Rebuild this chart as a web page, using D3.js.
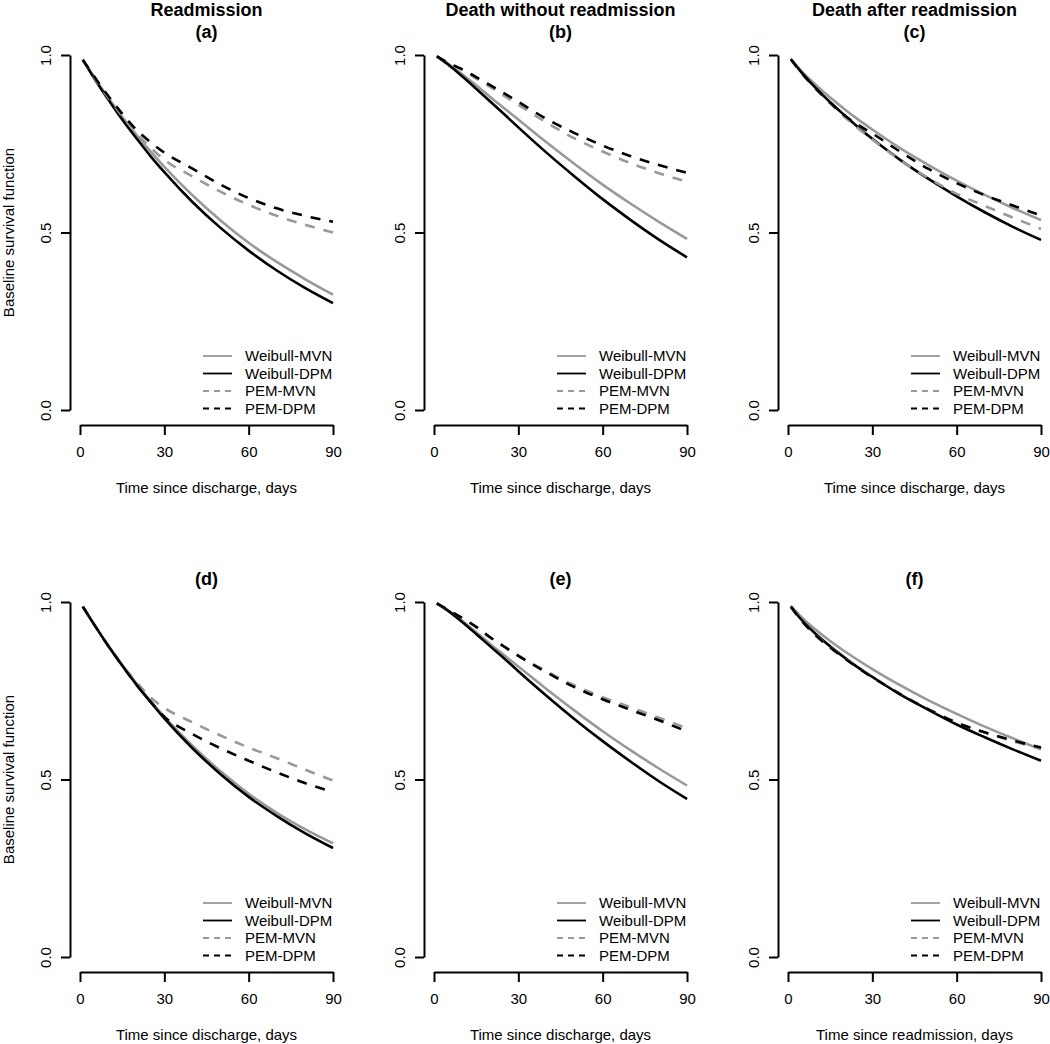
<!DOCTYPE html>
<html>
<head>
<meta charset="utf-8">
<script src="https://cdn.jsdelivr.net/npm/d3@7"></script>
<style>
  html, body { margin: 0; padding: 0; background: #fff; }
  svg { display: block; font-family: "Liberation Sans", Arial, Helvetica, sans-serif; }
</style>
</head>
<body>
<svg id="chart" width="1050" height="1044"></svg>
<script>
// ---------------- DATA ----------------
const times = [1, 5, 10, 15, 20, 25, 30, 40, 50, 60, 70, 80, 90];

const topTitles = ["Readmission", "Death without readmission", "Death after readmission"];
const panelLabels = ["(a)", "(b)", "(c)", "(d)", "(e)", "(f)"];
const xTitles = [
  "Time since discharge, days", "Time since discharge, days", "Time since discharge, days",
  "Time since discharge, days", "Time since discharge, days", "Time since readmission, days"
];
const yTitle = "Baseline survival function";
const xTicks = [0, 30, 60, 90];
const yTicks = [0, 0.5, 1];
const yTickLabels = ["0.0", "0.5", "1.0"];
const seriesNames = ["Weibull-MVN", "Weibull-DPM", "PEM-MVN", "PEM-DPM"];

// Panel (a) Readmission
const a_weibullMVN = [0.987, 0.938, 0.880, 0.826, 0.776, 0.729, 0.685, 0.605, 0.534, 0.471, 0.417, 0.369, 0.325];
const a_weibullDPM = [0.987, 0.935, 0.875, 0.818, 0.766, 0.716, 0.670, 0.586, 0.513, 0.449, 0.393, 0.344, 0.301];
const a_pemMVN     = [0.986, 0.937, 0.880, 0.828, 0.780, 0.740, 0.705, 0.658, 0.615, 0.578, 0.547, 0.522, 0.500];
const a_pemDPM     = [0.986, 0.940, 0.885, 0.835, 0.790, 0.755, 0.725, 0.680, 0.635, 0.597, 0.568, 0.547, 0.530];
// Panel (b) Death without readmission
const b_weibullMVN = [0.996, 0.976, 0.946, 0.915, 0.882, 0.850, 0.818, 0.754, 0.693, 0.635, 0.581, 0.530, 0.482];
const b_weibullDPM = [0.996, 0.973, 0.940, 0.905, 0.869, 0.833, 0.796, 0.725, 0.658, 0.594, 0.535, 0.480, 0.430];
const b_pemMVN     = [0.996, 0.978, 0.958, 0.934, 0.910, 0.885, 0.860, 0.810, 0.765, 0.728, 0.695, 0.667, 0.643];
const b_pemDPM     = [0.996, 0.978, 0.960, 0.938, 0.915, 0.892, 0.868, 0.820, 0.780, 0.745, 0.715, 0.690, 0.668];
// Panel (c) Death after readmission
const c_weibullMVN = [0.989, 0.953, 0.915, 0.880, 0.848, 0.818, 0.790, 0.737, 0.690, 0.646, 0.606, 0.569, 0.535];
const c_weibullDPM = [0.988, 0.949, 0.906, 0.867, 0.831, 0.796, 0.764, 0.704, 0.651, 0.602, 0.557, 0.516, 0.479];
const c_pemMVN     = [0.988, 0.947, 0.903, 0.864, 0.827, 0.793, 0.762, 0.703, 0.653, 0.609, 0.575, 0.542, 0.510];
const c_pemDPM     = [0.988, 0.948, 0.905, 0.866, 0.830, 0.803, 0.779, 0.727, 0.679, 0.639, 0.605, 0.576, 0.548];
// Panel (d)
const d_weibullMVN = [0.987, 0.937, 0.878, 0.823, 0.771, 0.722, 0.677, 0.595, 0.523, 0.460, 0.406, 0.360, 0.320];
const d_weibullDPM = [0.987, 0.937, 0.877, 0.821, 0.768, 0.719, 0.672, 0.588, 0.515, 0.451, 0.397, 0.349, 0.307];
const d_pemMVN     = [0.987, 0.937, 0.878, 0.823, 0.775, 0.732, 0.702, 0.661, 0.624, 0.590, 0.560, 0.528, 0.497];
const d_pemDPM     = [0.987, 0.937, 0.877, 0.821, 0.768, 0.720, 0.677, 0.628, 0.588, 0.553, 0.520, 0.490, 0.465];
// Panel (e)
const e_weibullMVN = [0.996, 0.977, 0.947, 0.915, 0.882, 0.850, 0.818, 0.755, 0.694, 0.636, 0.582, 0.531, 0.483];
const e_weibullDPM = [0.996, 0.975, 0.944, 0.910, 0.875, 0.841, 0.805, 0.736, 0.670, 0.608, 0.550, 0.495, 0.445];
const e_pemMVN     = [0.996, 0.978, 0.955, 0.930, 0.901, 0.875, 0.850, 0.805, 0.765, 0.732, 0.703, 0.674, 0.644];
const e_pemDPM     = [0.996, 0.978, 0.955, 0.930, 0.900, 0.874, 0.848, 0.802, 0.760, 0.726, 0.696, 0.667, 0.635];
// Panel (f)
const f_weibullMVN = [0.989, 0.956, 0.921, 0.890, 0.862, 0.836, 0.811, 0.765, 0.723, 0.685, 0.649, 0.616, 0.585];
const f_weibullDPM = [0.986, 0.948, 0.909, 0.875, 0.844, 0.815, 0.789, 0.739, 0.696, 0.655, 0.619, 0.585, 0.553];
const f_pemMVN     = [0.987, 0.946, 0.906, 0.873, 0.843, 0.815, 0.789, 0.741, 0.698, 0.661, 0.632, 0.608, 0.587];
const f_pemDPM     = [0.987, 0.946, 0.905, 0.872, 0.842, 0.814, 0.788, 0.740, 0.697, 0.660, 0.633, 0.610, 0.590];

const panelSeries = [
  [a_weibullMVN, a_weibullDPM, a_pemMVN, a_pemDPM],
  [b_weibullMVN, b_weibullDPM, b_pemMVN, b_pemDPM],
  [c_weibullMVN, c_weibullDPM, c_pemMVN, c_pemDPM],
  [d_weibullMVN, d_weibullDPM, d_pemMVN, d_pemDPM],
  [e_weibullMVN, e_weibullDPM, e_pemMVN, e_pemDPM],
  [f_weibullMVN, f_weibullDPM, f_pemMVN, f_pemDPM]
];

// ---------------- STYLE / LAYOUT ----------------
const GREY = "#999999";
const seriesStyle = [
  { color: GREY,   dash: null },
  { color: "#000", dash: null },
  { color: GREY,   dash: "10,9" },
  { color: "#000", dash: "10,9" }
];
const legendDash = "6,5";

const svg = d3.select("#chart");
svg.append("rect").attr("width", 1050).attr("height", 1044).attr("fill", "#fff");

const plotW = 253, plotH = 355;

panelSeries.forEach((series, p) => {
  const row = Math.floor(p / 3), col = p % 3;
  const x0 = 80 + 354 * col;
  const yTop = 55 + 547 * row;

  const x = d3.scaleLinear().domain([0, 90]).range([x0, x0 + plotW]);
  const y = d3.scaleLinear().domain([0, 1]).range([yTop + plotH, yTop]);

  const g = svg.append("g");

  // titles
  if (row === 0) {
    g.append("text").attr("x", x0 + plotW / 2).attr("y", 16)
      .attr("text-anchor", "middle").attr("font-size", 18).attr("font-weight", "bold")
      .text(topTitles[col]);
  }
  g.append("text").attr("x", x0 + plotW / 2).attr("y", yTop - 17)
    .attr("text-anchor", "middle").attr("font-size", 18).attr("font-weight", "bold")
    .text(panelLabels[p]);

  // x axis
  const xAxis = g.append("g").attr("transform", `translate(0,${yTop + plotH + 15})`)
    .call(d3.axisBottom(x).tickValues(xTicks).tickFormat(d3.format("d")).tickSize(10).tickSizeOuter(0));
  xAxis.select(".domain").attr("stroke-width", 2);
  xAxis.selectAll(".tick line").attr("stroke-width", 2);
  xAxis.selectAll(".tick text").attr("y", 32).attr("dy", null)
    .attr("font-size", 15).attr("font-family", null).attr("fill", "#000");

  // y axis
  const yAxis = g.append("g").attr("transform", `translate(${x0 - 10},0)`)
    .call(d3.axisLeft(y).tickValues(yTicks).tickFormat((d, i) => yTickLabels[i]).tickSize(9).tickSizeOuter(0));
  yAxis.select(".domain").attr("stroke-width", 2);
  yAxis.selectAll(".tick line").attr("stroke-width", 2);
  yAxis.selectAll(".tick text").attr("x", 0).attr("dy", null)
    .attr("text-anchor", "middle").attr("transform", "translate(-19,0) rotate(-90)")
    .attr("font-size", 15).attr("font-family", null).attr("fill", "#000");

  // axis titles
  g.append("text").attr("x", x0 + plotW / 2).attr("y", yTop + plotH + 83)
    .attr("text-anchor", "middle").attr("font-size", 15).text(xTitles[p]);
  if (col === 0) {
    g.append("text").attr("transform", `translate(14,${yTop + plotH / 2}) rotate(-90)`)
      .attr("text-anchor", "middle").attr("font-size", 15).text(yTitle);
  }

  // curves
  const line = d3.line().x((d, i) => x(times[i])).y(d => y(d)).curve(d3.curveMonotoneX);
  series.forEach((vals, s) => {
    g.append("path").datum(vals).attr("d", line)
      .attr("fill", "none").attr("stroke", seriesStyle[s].color)
      .attr("stroke-width", 2.6).attr("stroke-dasharray", seriesStyle[s].dash)
      .attr("stroke-linejoin", "round");
  });

  // legend
  seriesNames.forEach((name, s) => {
    const ly = yTop + 301 + 17.5 * s;
    g.append("line").attr("x1", x0 + 123).attr("x2", x0 + 152).attr("y1", ly).attr("y2", ly)
      .attr("stroke", seriesStyle[s].color).attr("stroke-width", 1.8)
      .attr("stroke-dasharray", seriesStyle[s].dash ? legendDash : null);
    g.append("text").attr("x", x0 + 165).attr("y", ly).attr("dy", "0.36em")
      .attr("font-size", 15).text(name);
  });
});
</script>
</body>
</html>
